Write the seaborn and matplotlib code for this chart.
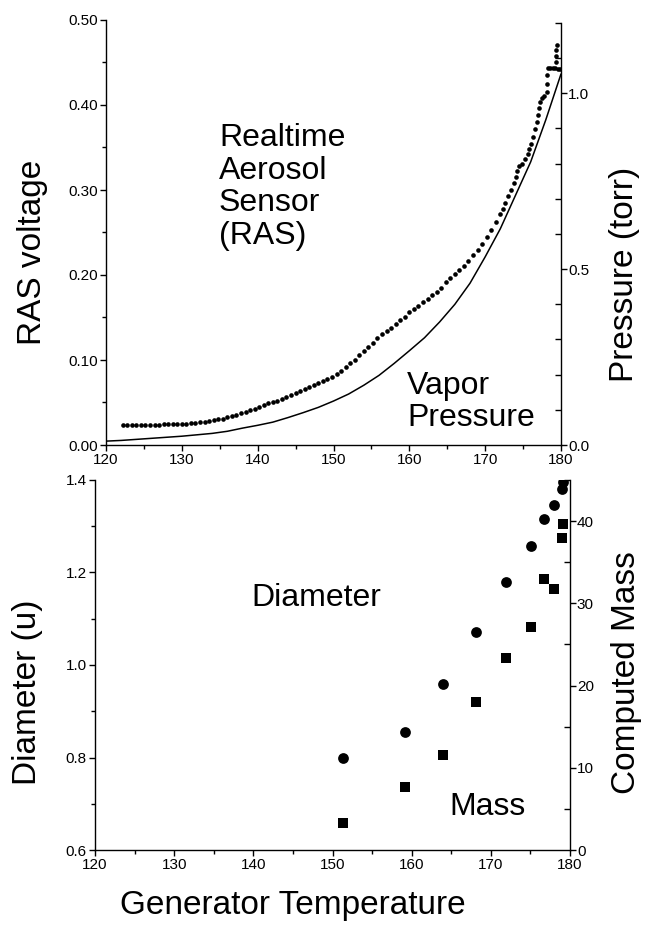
import matplotlib
matplotlib.use("Agg")
import matplotlib.pyplot as plt
from matplotlib.ticker import MultipleLocator, FormatStrFormatter
import seaborn as sns
import pandas as pd

# ---------------- data ----------------
# Top panel: Realtime Aerosol Sensor voltage vs generator temperature
ras_temp = [122.2, 122.8, 123.4, 124.0, 124.6, 125.2, 125.8, 126.4, 127.0, 127.6,
            128.2, 128.8, 129.4, 130.0, 130.6, 131.2, 131.8, 132.4, 133.0, 133.6,
            134.2, 134.8, 135.4, 136.0, 136.6, 137.2, 137.8, 138.4, 139.0, 139.6,
            140.2, 140.8, 141.4, 142.0, 142.6, 143.2, 143.8, 144.4, 145.0, 145.6,
            146.2, 146.8, 147.4, 148.0, 148.6, 149.2, 149.8, 150.4, 151.0, 151.6,
            152.2, 152.8, 153.4, 154.0, 154.6, 155.2, 155.8, 156.4, 157.0, 157.6,
            158.2, 158.8, 159.4, 160.0, 160.6, 161.2, 161.8, 162.4, 163.0, 163.6,
            164.2, 164.8, 165.4, 166.0, 166.6, 167.2, 167.8, 168.4, 169.0, 169.6,
            170.2, 170.8, 171.4, 172.0, 172.3, 172.6, 173.0, 173.4, 173.8, 174.1,
            174.2, 174.4, 174.8, 175.2, 175.6, 175.8, 176.0, 176.3, 176.6, 176.9,
            177.0, 177.1, 177.2, 177.5, 177.8, 178.1, 178.2, 178.2, 178.3, 178.6,
            178.9, 179.2, 179.4, 179.4, 179.4, 179.5, 179.6, 179.9]
ras_volt = [0.0230, 0.0232, 0.0233, 0.0235, 0.0236, 0.0236, 0.0238, 0.0240, 0.0240, 0.0242,
            0.0243, 0.0245, 0.0247, 0.0250, 0.0252, 0.0257, 0.0262, 0.0268, 0.0275, 0.0283,
            0.0290, 0.0300, 0.0310, 0.0325, 0.0340, 0.0350, 0.0375, 0.0390, 0.0410, 0.0425,
            0.0450, 0.0465, 0.0490, 0.0500, 0.0520, 0.0545, 0.0560, 0.0585, 0.0610, 0.0630,
            0.0655, 0.0680, 0.0700, 0.0725, 0.0750, 0.0780, 0.0800, 0.0830, 0.0875, 0.0920,
            0.0960, 0.1000, 0.1060, 0.1100, 0.1150, 0.1200, 0.1260, 0.1300, 0.1340, 0.1380,
            0.1420, 0.1470, 0.1500, 0.1560, 0.1600, 0.1640, 0.1680, 0.1720, 0.1770, 0.1800,
            0.1850, 0.1920, 0.1960, 0.2010, 0.2060, 0.2110, 0.2170, 0.2230, 0.2290, 0.2360,
            0.2450, 0.2530, 0.2620, 0.2720, 0.2780, 0.2850, 0.2930, 0.3000, 0.3080, 0.3150,
            0.3220, 0.3280, 0.3300, 0.3370, 0.3420, 0.3480, 0.3540, 0.3620, 0.3720, 0.3800,
            0.3880, 0.3960, 0.4040, 0.4080, 0.4100, 0.4150, 0.4250, 0.4350, 0.4430, 0.4430,
            0.4430, 0.4430, 0.4500, 0.4580, 0.4650, 0.4700, 0.4420, 0.4420]

# Top panel: vapor pressure curve (torr, right axis)
vp_temp = [120, 122, 124, 126, 128, 130, 132, 134, 136, 138, 140, 142, 144, 146, 148,
           150, 152, 154, 156, 158, 160, 162, 164, 166, 168, 170, 172, 174, 176, 178, 180]
vp_torr = [0.011, 0.013, 0.016, 0.019, 0.022, 0.025, 0.029, 0.033, 0.039, 0.048, 0.056,
           0.065, 0.078, 0.092, 0.107, 0.125, 0.145, 0.170, 0.198, 0.232, 0.268, 0.305,
           0.350, 0.400, 0.460, 0.535, 0.615, 0.710, 0.805, 0.925, 1.055]

# Bottom panel: particle diameter and computed mass
size_temp = [151.3, 159.2, 163.9, 168.1, 171.9, 175.1, 176.7, 178.0, 179.0, 179.1]
diameter = [0.798, 0.856, 0.959, 1.071, 1.179, 1.257, 1.316, 1.347, 1.380, 1.396]
mass = [3.3, 7.7, 11.6, 18.0, 23.4, 27.1, 33.0, 31.7, 38.0, 39.7]

top_xticks = [120, 130, 140, 150, 160, 170, 180]

# ---------------- style ----------------
sns.set_style("ticks")
plt.rcParams["font.family"] = ["Liberation Sans", "DejaVu Sans"]
plt.rcParams["text.color"] = "black"
plt.rcParams["axes.labelcolor"] = "black"
plt.rcParams["axes.edgecolor"] = "black"
plt.rcParams["xtick.color"] = "black"
plt.rcParams["ytick.color"] = "black"

TICK_FS = 11
LABEL_FS = 24
ANN_FS = 23

ras_df = pd.DataFrame({"T": ras_temp, "V": ras_volt})
vp_df = pd.DataFrame({"T": vp_temp, "P": vp_torr})
sz_df = pd.DataFrame({"T": size_temp, "D": diameter, "M": mass})

W, H = 648, 930
fig = plt.figure(figsize=(W / 100, H / 100), dpi=100)

ax1 = fig.add_axes([106 / W, 1 - 445 / H, 455 / W, 425 / H])
ax1r = ax1.twinx()
ax2 = fig.add_axes([95 / W, 1 - 850 / H, 475 / W, 370 / H])
ax2r = ax2.twinx()

# ---------------- draw ----------------
sns.scatterplot(data=ras_df, x="T", y="V", ax=ax1, color="black", s=11,
                linewidth=0, marker="o")
sns.lineplot(data=vp_df, x="T", y="P", ax=ax1r, color="black", lw=1.1,
             estimator=None)
sns.scatterplot(data=sz_df, x="T", y="D", ax=ax2, color="black", s=60,
                linewidth=0, marker="o")
sns.scatterplot(data=sz_df, x="T", y="M", ax=ax2r, color="black", s=50,
                linewidth=0, marker="s")

for a in (ax1, ax1r, ax2, ax2r):
    a.set_xlabel("")
    a.set_ylabel("")
    a.set_xlim(120, 180)

# top panel axes
ax1.set_ylim(0, 0.5)
ax1.yaxis.set_major_locator(MultipleLocator(0.1))
ax1.yaxis.set_minor_locator(MultipleLocator(0.05))
ax1.yaxis.set_major_formatter(FormatStrFormatter("%.2f"))
ax1.set_xticks(top_xticks)
ax1.xaxis.set_minor_locator(MultipleLocator(5))
ax1r.set_ylim(0, 1.2 * 425 / 422)
ax1r.yaxis.set_major_locator(MultipleLocator(0.5))
ax1r.yaxis.set_minor_locator(MultipleLocator(0.1))
ax1r.yaxis.set_major_formatter(FormatStrFormatter("%.1f"))
ax1r.spines["right"].set_bounds(0, 1.2)

# bottom panel axes
ax2.set_ylim(0.6, 1.4)
ax2.yaxis.set_major_locator(MultipleLocator(0.2))
ax2.yaxis.set_minor_locator(MultipleLocator(0.1))
ax2.yaxis.set_major_formatter(FormatStrFormatter("%.1f"))
ax2.set_xticks(top_xticks)
ax2.xaxis.set_minor_locator(MultipleLocator(5))
ax2r.set_ylim(0, 45)
ax2r.yaxis.set_major_locator(MultipleLocator(10))
ax2r.yaxis.set_minor_locator(MultipleLocator(5))

for a in (ax1, ax2):
    a.spines["top"].set_visible(False)
    a.spines["right"].set_visible(False)
    a.spines["left"].set_linewidth(1.0)
    a.spines["bottom"].set_linewidth(1.0)
    a.tick_params(axis="both", which="major", direction="out", length=4,
                  width=1, labelsize=TICK_FS, pad=2, labelcolor="black")
    a.tick_params(axis="both", which="minor", direction="out", length=3, width=1)
for a in (ax1r, ax2r):
    for s in ("top", "left", "bottom"):
        a.spines[s].set_visible(False)
    a.spines["right"].set_linewidth(1.0)
    a.tick_params(axis="y", which="major", direction="out", length=4, width=1,
                  labelsize=TICK_FS, pad=1, labelcolor="black")
    a.tick_params(axis="y", which="minor", direction="in", length=4, width=1)
    a.patch.set_visible(False)

# ---------------- text ----------------
ax1.text(134.9, 0.379, "Realtime\nAerosol\nSensor\n(RAS)", fontsize=ANN_FS,
         ha="left", va="top", linespacing=1.12, color="black")
ax1.text(159.7, 0.087, "Vapor\nPressure", fontsize=ANN_FS, ha="left", va="top",
         linespacing=1.1, color="black")
ax2.text(139.8, 1.128, "Diameter", fontsize=ANN_FS, ha="left", va="baseline",
         color="black")
ax2.text(164.8, 0.676, "Mass", fontsize=ANN_FS, ha="left", va="baseline",
         color="black")

fig.text(33 / W, 1 - 252 / H, "RAS voltage", rotation=90, fontsize=LABEL_FS,
         ha="center", va="center", color="black")
fig.text(625 / W, 1 - 274 / H, "Pressure (torr)", rotation=90, fontsize=LABEL_FS,
         ha="center", va="center", color="black")
fig.text(28 / W, 1 - 692 / H, "Diameter (u)", rotation=90, fontsize=LABEL_FS,
         ha="center", va="center", color="black")
fig.text(626 / W, 1 - 673 / H, "Computed Mass", rotation=90, fontsize=LABEL_FS,
         ha="center", va="center", color="black")
fig.text(293 / W, 1 - 905 / H, "Generator Temperature", fontsize=LABEL_FS,
         ha="center", va="center", color="black")

fig.savefig("out.png", dpi=100, facecolor="white")
